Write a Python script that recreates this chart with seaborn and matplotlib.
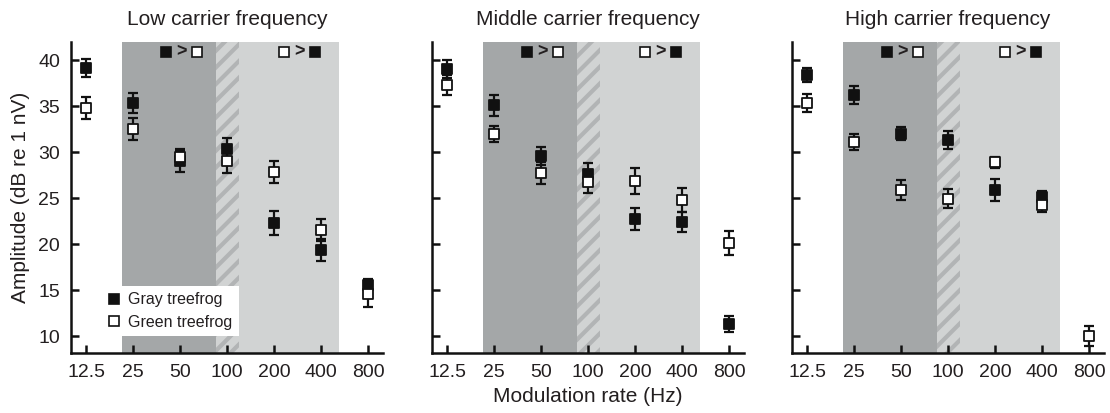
import numpy as np
import pandas as pd
import matplotlib
matplotlib.use("Agg")
import matplotlib.pyplot as plt
from matplotlib.lines import Line2D
import matplotlib.transforms as mtransforms
import seaborn as sns

# ---------------- data ----------------
rates = ["12.5", "25", "50", "100", "200", "400", "800"]
panels = ["Low carrier frequency", "Middle carrier frequency", "High carrier frequency"]
species = ["Gray treefrog", "Green treefrog"]

low_gray = [39.2, 35.4, 29.1, 30.4, 22.3, 19.4, 15.6]
low_gray_err = [1.0, 1.1, 1.2, 1.2, 1.3, 1.2, 0.6]
low_green = [34.85, 32.5, 29.5, 29.05, 27.9, 21.5, 14.6]
low_green_err = [1.2, 1.2, 0.6, 1.3, 1.2, 1.2, 1.4]

mid_gray = [39.05, 35.1, 29.6, 27.6, 22.7, 22.4, 11.3]
mid_gray_err = [1.0, 1.1, 1.0, 1.25, 1.2, 1.1, 0.85]
mid_green = [37.3, 32.0, 27.75, 26.8, 26.9, 24.8, 20.1]
mid_green_err = [1.1, 0.9, 1.2, 1.2, 1.4, 1.3, 1.3]

high_gray = [38.45, 36.2, 32.0, 31.3, 25.9, 25.1, np.nan]
high_gray_err = [0.75, 1.0, 0.7, 1.0, 1.2, 0.7, np.nan]
high_green = [35.35, 31.1, 25.9, 24.95, 28.9, 24.3, 10.0]
high_green_err = [1.0, 0.9, 1.05, 1.0, 0.6, 0.75, 1.1]

yticks = [10, 15, 20, 25, 30, 35, 40]

# ---------------- style ----------------
sns.set_theme(style="ticks")
plt.rcParams["font.family"] = ["Liberation Sans", "DejaVu Sans"]
plt.rcParams["hatch.linewidth"] = 3.0
TXT = "#231f20"
DARK = "#a4a7a8"
LIGHT = "#d1d3d3"
HATCH = "#b2b4b5"
INK = "#111111"

rows = []
for p, (g, ge, n, ne) in zip(panels, [
        (low_gray, low_gray_err, low_green, low_green_err),
        (mid_gray, mid_gray_err, mid_green, mid_green_err),
        (high_gray, high_gray_err, high_green, high_green_err)]):
    for i, r in enumerate(rates):
        rows.append(dict(panel=p, species=species[0], rate=r, pos=i, amp=g[i], err=ge[i]))
        rows.append(dict(panel=p, species=species[1], rate=r, pos=i, amp=n[i], err=ne[i]))
df = pd.DataFrame(rows)

fig = plt.figure(figsize=(11.1, 4.13), dpi=100)
lefts = [71 / 1110, 432 / 1110, 792 / 1110]
W = 312 / 1110
B = (413 - 353) / 413
H = (353 - 42) / 413

style = {species[0]: dict(fc=INK, ec=INK),
         species[1]: dict(fc="white", ec=INK)}

for k, p in enumerate(panels):
    ax = fig.add_axes([lefts[k], B, W, H])
    # shaded regions
    ax.axvspan(0.77, 2.77, color=DARK, lw=0, zorder=0)
    ax.axvspan(2.77, 3.26, facecolor=LIGHT, edgecolor=HATCH, hatch="//", lw=0, zorder=0)
    ax.axvspan(3.26, 5.38, color=LIGHT, lw=0, zorder=0)

    sub = df[df.panel == p]
    for j, sp in enumerate(species):
        d = sub[sub.species == sp].dropna()
        ax.errorbar(d.pos, d.amp, yerr=d.err, fmt="none", ecolor=INK,
                    elinewidth=1.6, capsize=3.8, capthick=1.6, zorder=2 + 2 * j)
        sns.scatterplot(data=d, x="pos", y="amp", marker="s", s=52,
                        color=style[sp]["fc"], edgecolor=style[sp]["ec"],
                        linewidth=1.3, ax=ax, zorder=3 + 2 * j, legend=False)

    # "> " annotations
    tr = mtransforms.blended_transform_factory(ax.transData, ax.transAxes)
    yy = 0.968
    for (xa, xg, xb), (fa, fb) in [((1.70, 2.03, 2.37), (INK, "white")),
                                   ((4.21, 4.54, 4.87), ("white", INK))]:
        ax.plot([xa], [yy], marker="s", ms=7, mfc=fa, mec=INK, mew=1.2,
                transform=tr, clip_on=False, zorder=6)
        ax.plot([xb], [yy], marker="s", ms=7, mfc=fb, mec=INK, mew=1.2,
                transform=tr, clip_on=False, zorder=6)
        ax.text(xg, yy, ">", transform=tr, ha="center", va="center",
                fontsize=13, fontweight="bold", color=TXT, zorder=6)

    ax.set_xlim(-0.32, 6.32)
    ax.set_ylim(8.15, 42)
    ax.set_xticks(range(len(rates)))
    ax.set_xticklabels(rates)
    ax.set_yticks(yticks)
    ax.tick_params(direction="in", length=6, width=1.8, labelsize=14,
                   colors=INK, labelcolor=TXT, pad=8)
    ax.set_title(p, fontsize=15, color=TXT, pad=12)
    sns.despine(ax=ax)
    for s in ["left", "bottom"]:
        ax.spines[s].set_linewidth(1.8)
        ax.spines[s].set_color(INK)
    ax.set_xlabel("")
    ax.set_ylabel("")
    if k == 0:
        ax.set_ylabel("Amplitude (dB re 1 nV)", fontsize=15, color=TXT, labelpad=6)
        handles = [Line2D([], [], ls="none", marker="s", ms=7, mfc=INK, mec=INK, mew=1.2),
                   Line2D([], [], ls="none", marker="s", ms=7, mfc="white", mec=INK, mew=1.2)]
        leg = ax.legend(handles, species, loc="lower left",
                        bbox_to_anchor=(0.096, 0.055), borderaxespad=0,
                        fontsize=11.5, frameon=True, fancybox=False,
                        handlelength=0.8, handletextpad=0.5, borderpad=0.4,
                        labelspacing=0.45)
        leg.get_frame().set_facecolor("white")
        leg.get_frame().set_edgecolor("none")
        leg.get_frame().set_alpha(1)
        leg.set_zorder(10)
        for t in leg.get_texts():
            t.set_color(TXT)
    else:
        ax.tick_params(axis="y", labelleft=False)
    if k == 1:
        ax.set_xlabel("Modulation rate (Hz)", fontsize=15, color=TXT, labelpad=4)

fig.savefig("out.png", dpi=100)
